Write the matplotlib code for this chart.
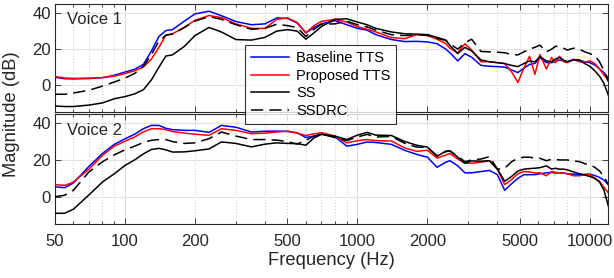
import matplotlib
matplotlib.use("Agg")
import matplotlib.pyplot as plt
from matplotlib.ticker import FixedLocator, NullFormatter, FixedFormatter

plt.rcParams['font.family'] = ['Liberation Sans', 'DejaVu Sans']

freq = [50, 55, 60, 70, 80, 90, 100, 110, 120, 130, 140, 150, 160, 180, 200,
        230, 260, 300, 350, 400, 450, 500, 550, 600, 650, 700, 800, 900, 1000,
        1100, 1200, 1400, 1600, 1800, 2000, 2200, 2400, 2500, 2700, 2900, 3100,
        3400, 3700, 4000, 4300, 4600, 4900, 5200, 5500, 5800, 6100, 6500, 6850,
        7100, 7400, 7700, 8000, 8500, 9000, 9500, 10000, 10500, 11000, 11500, 12000]

# Voice 1
v1_baseline = [4.4, 3.6, 3.5, 3.7, 4.2, 5.5, 7.3, 8.8, 11.5, 19, 27, 30.3, 30.8, 35.5, 39.5,
               41, 38.5, 35.3, 33.5, 34, 37.3, 37, 34.5, 29, 32, 34, 35.8, 33.5, 31.5,
               30.5, 28, 25.3, 24.2, 24.3, 24, 23, 20, 18, 13.5, 17.5, 15.5,
               11, 10.5, 10.3, 10, 8.5, 7, 9.5, 11.5, 12.1, 15.2, 12.5, 12.5,
               13.3, 13.9, 13.5, 13, 14.3, 13.8, 13, 12.5, 11.2, 9, 7, 4]
v1_proposed = [4.8, 4, 3.8, 3.9, 4.2, 5, 6.5, 8, 10, 14.5, 21, 27.8, 28.5, 32, 36,
               38.6, 37.5, 34, 31.5, 31.5, 36.5, 37.3, 34.8, 29, 33, 35.4, 36.5, 35, 32.5,
               31, 29.5, 26.4, 25.8, 28, 27.5, 25.5, 23, 20.5, 18, 23, 19.5,
               13, 13, 12.5, 12, 7.5, 1.5, 9.5, 16, 6, 17, 9, 15.4,
               12.5, 16, 13, 12.5, 14.3, 13, 12.8, 13.5, 12, 9, 5.5, 3]
v1_ss = [-11.5, -11.8, -11.8, -11, -9.8, -7.5, -6.3, -4.8, -2.5, 3, 10, 16.2, 16.8, 21.5, 27.5,
         32, 29.5, 25.3, 25, 26.5, 30, 30.8, 30, 25.5, 29, 32.5, 36.5, 36.8, 35,
         33.5, 31.5, 29.5, 28.5, 28.3, 28, 26.5, 25, 22, 17.5, 21, 19,
         14, 13, 12.5, 12, 11, 10.3, 12, 13.4, 13, 15.8, 13.5, 13,
         14.5, 15.4, 14, 13, 14, 14, 12, 10.5, 8, 5, 1, -5.5]
v1_ssdrc = [-5, -5, -4.3, -2.8, -0.5, 1.8, 3.9, 6.5, 10.5, 17, 24.5, 27.7, 28.3, 32, 35.5,
            38, 36.5, 33.5, 31, 31.5, 33.8, 33, 32, 27, 31, 33.8, 34, 35.5, 33.5,
            32.3, 30.5, 28, 27.5, 28, 27.8, 26, 24.8, 23, 20, 23.5, 25.5,
            18.7, 18.5, 18.3, 18, 17, 16.8, 18.5, 20, 21, 22.2, 18.5, 20,
            21.5, 21.5, 20.5, 19.5, 20.5, 20, 18.5, 17.5, 16.5, 13, 8, 2]

# Voice 2
v2_baseline = [5.4, 4.9, 7.5, 16.5, 23.5, 28.5, 31.5, 34, 37, 38.8, 38.8, 37.2, 36.5, 36.1, 36.1,
               35, 38.8, 37.8, 35.2, 35.6, 35.7, 35.5, 34.8, 32.2, 33, 34.1, 32.7, 27.5, 28.5,
               29.8, 29.5, 28.5, 25.2, 23, 21.5, 16, 18.8, 19.6, 16.8, 13, 13,
               13.7, 14.3, 12, 3.5, 7, 10, 12, 12, 12, 12.5, 13, 13.2,
               12.9, 13, 12.9, 12.5, 12.3, 12, 12.2, 12.3, 11.5, 10.5, 9, 6.6]
v2_proposed = [6.6, 6.1, 8, 15, 22.5, 27.5, 30.2, 32.5, 35.3, 37, 37, 36.5, 35.5, 34.6, 34,
               33.4, 37, 36.1, 34.3, 34.6, 35.2, 35.7, 34.6, 33.3, 34.2, 34.8, 33, 29.3, 30.5,
               31.1, 30.5, 30.3, 26.5, 24.7, 25.3, 21, 22.7, 23.5, 20.5, 18.2, 18.2,
               18.8, 19.6, 15, 6.6, 9.3, 12.5, 13.7, 13.5, 12.9, 13, 11.4, 13.7,
               13.2, 13, 12.9, 12.5, 11.4, 11.4, 12, 12, 10, 8.4, 5, 2.1]
v2_ss = [-9, -9, -6.8, 1, 8, 12.5, 17, 20, 23.3, 25.7, 26.3, 25.5, 24.3, 24.4, 25,
         26, 29.8, 29, 27.1, 28.6, 29.3, 29, 28.9, 28, 32, 33.9, 33, 31.1, 33.5,
         35, 33.5, 33.3, 30, 28, 27, 22, 24.8, 25, 21.5, 18.2, 19.5,
         19.3, 19.6, 15, 8.4, 11, 14, 15, 15.3, 15.5, 15.8, 16.8, 15,
         15.5, 15, 15, 14.6, 13.5, 12.5, 11.8, 11, 10, 8, 3.5, -5]
v2_ssdrc = [0, 0.8, 3.5, 13.5, 19, 22.8, 25.5, 27.5, 29.5, 30.7, 31.1, 31.1, 30, 29, 29.3,
            31.6, 35.2, 33, 31.1, 31.1, 30.8, 30, 28.6, 30.7, 33, 34, 32.2, 30.5, 32.5,
            33.9, 32.5, 32.8, 29, 27, 26.8, 22.2, 24.5, 24.9, 22, 19.1, 20,
            20.5, 21.8, 15, 15.5, 19, 21, 21.5, 21.5, 21, 20.9, 19.6, 20.4,
            20.3, 20, 20, 20, 19.5, 19.1, 18, 17.3, 16, 14, 11, 6.6]

series_labels = ['Baseline TTS', 'Proposed TTS', 'SS', 'SSDRC']
panel_titles = ['Voice 1', 'Voice 2']
xtick_vals = [50, 100, 200, 500, 1000, 2000, 5000, 10000]
ytick_vals = [0, 20, 40]

fig = plt.figure(figsize=(6.14, 2.78), dpi=100)
W, H = 614, 278
ax1 = fig.add_axes([55 / W, 1 - 112.3 / H, 553.3 / W, 108.3 / H])
ax2 = fig.add_axes([55 / W, 1 - 224.3 / H, 553.3 / W, 110.3 / H])

axcol = '#262626'
minor_x = [m * 10 ** e for e in (1, 2, 3, 4) for m in range(2, 10)]
minor_x = [v for v in minor_x if 50 <= v <= 12000 and v not in (100, 1000, 10000)]

panels = [(ax1, v1_baseline, v1_proposed, v1_ss, v1_ssdrc),
          (ax2, v2_baseline, v2_proposed, v2_ss, v2_ssdrc)]
for i, (ax, b, p, s, d) in enumerate(panels):
    ax.set_xscale('log')
    ax.set_xlim(50, 12000)
    ax.set_ylim(-15, 45)
    ax.plot(freq, b, color='#0000ff', lw=1.1, label=series_labels[0], zorder=3)
    ax.plot(freq, p, color='#ff0000', lw=1.1, label=series_labels[1], zorder=3)
    ax.plot(freq, s, color='black', lw=1.1, label=series_labels[2], zorder=3)
    ax.plot(freq, d, color='black', lw=1.1, ls=(0, (8, 4)), label=series_labels[3], zorder=3)
    # grid
    for v in (100, 1000, 10000):
        ax.axvline(v, color='#dcdcdc', lw=0.8, zorder=1)
    for v in minor_x:
        ax.axvline(v, color='#c8c8c8', lw=0.7, ls=(0, (1, 2)), zorder=1)
    for v in ytick_vals:
        ax.axhline(v, color='#e2e2e2', lw=0.8, zorder=1)
    ax.xaxis.set_major_locator(FixedLocator(xtick_vals))
    ax.xaxis.set_minor_locator(FixedLocator([v for v in minor_x if v not in xtick_vals]))
    ax.xaxis.set_minor_formatter(NullFormatter())
    ax.set_yticks(ytick_vals)
    ax.tick_params(which='both', direction='in', top=True, right=True, colors=axcol,
                   labelsize=12, width=0.6, labelcolor='#262626')
    ax.tick_params(which='major', length=4)
    ax.tick_params(which='minor', length=2)
    ax.tick_params(axis='y', pad=3)
    ax.tick_params(axis='x', pad=7)
    for sp in ax.spines.values():
        sp.set_color(axcol)
        sp.set_linewidth(0.8)
    ax.text(0.021, 0.815 if i == 0 else 0.81, panel_titles[i], transform=ax.transAxes,
            fontsize=12, va='baseline', ha='left', color='#262626', zorder=5)

ax1.xaxis.set_major_formatter(NullFormatter())
ax2.xaxis.set_major_formatter(FixedFormatter([str(v) for v in xtick_vals]))
ax2.set_xlabel('Frequency (Hz)', fontsize=13.2, color='#262626', labelpad=2)
fig.text(12 / W, 1 - 114 / H, 'Magnitude (dB)', rotation=90, fontsize=13.2,
         va='center', ha='center', color='#262626')

handles, labels = ax1.get_legend_handles_labels()
leg = fig.legend(handles, labels, loc='upper left', bbox_to_anchor=(245 / W, 1 - 45 / H),
                 borderaxespad=0, fontsize=10.5, frameon=True, fancybox=False,
                 handlelength=2.6, handletextpad=0.5, labelspacing=0.26,
                 borderpad=0.4)
leg.get_frame().set_edgecolor('black')
leg.get_frame().set_linewidth(0.8)
leg.set_zorder(10)

fig.savefig('out.png', dpi=100)
